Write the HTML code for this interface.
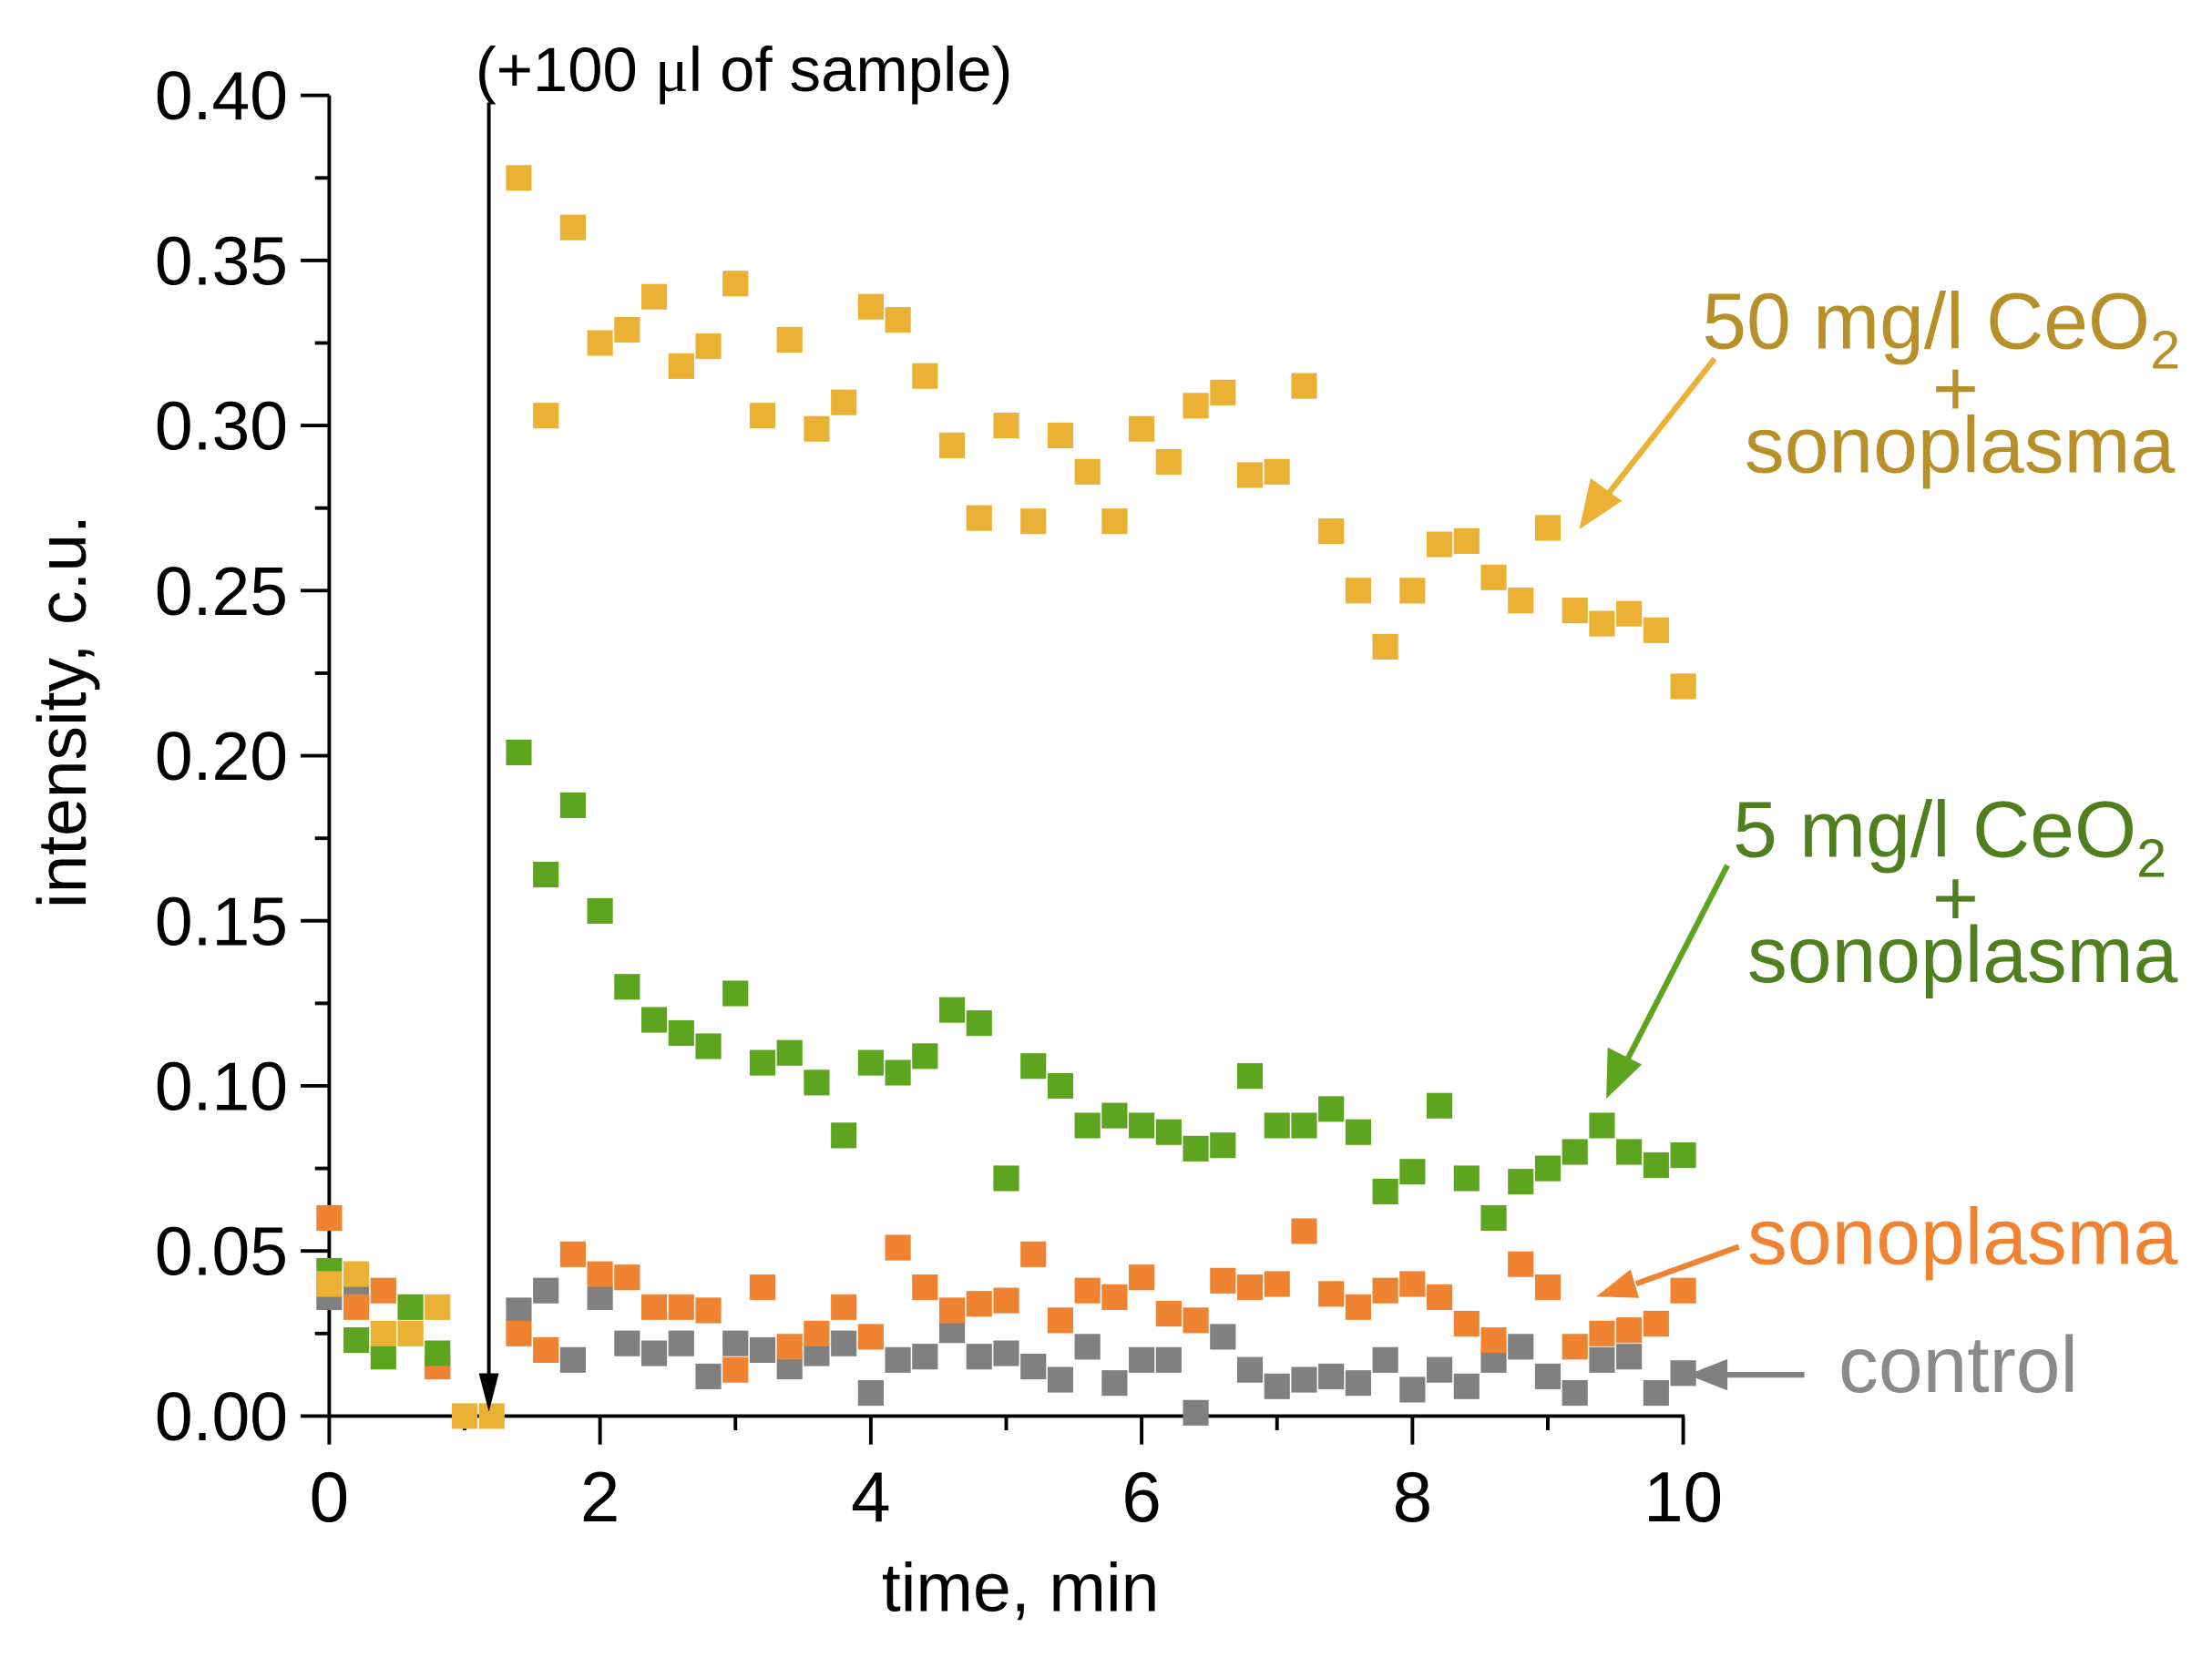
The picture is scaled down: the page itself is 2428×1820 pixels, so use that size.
<!DOCTYPE html>
<html><head><meta charset="utf-8"><style>html,body{margin:0;padding:0;background:#fff}svg{display:block}</style></head>
<body>
<svg id="s" width="2428" height="1820" viewBox="0 0 1552 1165" preserveAspectRatio="none" xmlns="http://www.w3.org/2000/svg" font-family="Liberation Sans, Arial, sans-serif">
<rect width="1552" height="1165" fill="#fff"/>
<g id="ax" stroke="#000" stroke-width="2.5" fill="none">
<line x1="231" y1="67" x2="231" y2="996"/>
<line x1="230" y1="995" x2="1182" y2="995"/>
</g>
<g id="tk" stroke="#000" stroke-width="2.5"></g>
<g id="lbl" font-size="48" fill="#000"></g>
<g id="pts"></g>
<line x1="343" y1="72" x2="343" y2="975" stroke="#000" stroke-width="2.5"/>
<polygon points="336,965 350,965 343,992" fill="#000"/>
<text x="522" y="64" font-size="44" text-anchor="middle">(+100 <tspan font-family="Liberation Serif, serif">μ</tspan>l of sample)</text>
<text x="716" y="1132" font-size="48" text-anchor="middle">time, min</text>
<text transform="translate(60,500) rotate(-90)" font-size="48" text-anchor="middle">intensity, c.u.</text>
<g font-size="56" text-anchor="middle">
<text x="1362" y="245" fill="#B8902A">50 mg/l CeO<tspan font-size="38" dy="14">2</tspan></text>
<text x="1372" y="292" fill="#B8902A" dy="0">+</text>
<text x="1375" y="332" fill="#B8902A">sonoplasma</text>
<text x="1368" y="602" fill="#4F7F1E">5 mg/l CeO<tspan font-size="38" dy="14">2</tspan></text>
<text x="1372" y="650" fill="#4F7F1E">+</text>
<text x="1377" y="690" fill="#4F7F1E">sonoplasma</text>
<text x="1377" y="888" fill="#EF8331">sonoplasma</text>
<text x="1374" y="978" fill="#8a8a8a">control</text>
</g>
<g stroke-width="4">
<line x1="1203" y1="252" x2="1126" y2="350" stroke="#EBB135"/>
<polygon points="1108,372 1116,336 1138,352" fill="#EBB135"/>
<line x1="1212" y1="608" x2="1140" y2="748" stroke="#5DA51E"/>
<polygon points="1127,772 1128,736 1152,748" fill="#5DA51E"/>
<line x1="1220" y1="876" x2="1148" y2="902" stroke="#EF8331"/>
<polygon points="1120,911 1144,892 1150,912" fill="#EF8331"/>
<line x1="1266" y1="966" x2="1210" y2="966" stroke="#808080"/>
<polygon points="1184,966 1212,955 1212,977" fill="#808080"/>
</g>
</svg>
<script>
var NS="http://www.w3.org/2000/svg";
function el(p,t,a,txt){var e=document.createElementNS(NS,t);for(var k in a)e.setAttribute(k,a[k]);if(txt!=null)e.textContent=txt;document.getElementById(p).appendChild(e);}
for(var i=0;i<=16;i++){var y=995-i*58;var maj=i%2==0;el("tk","line",{x1:231-(maj?20:10),y1:y,x2:231,y2:y});
 if(maj)el("lbl","text",{x:202,y:y+17,"text-anchor":"end"},(i*0.025).toFixed(2));}
for(var i=0;i<=10;i++){var x=231+i*95;var maj=i%2==0;el("tk","line",{x1:x,y1:995,x2:x,y2:995+(maj?20:10)});
 if(maj)el("lbl","text",{x:x,y:1069,"text-anchor":"middle","font-size":50},String(i));}
function S(c,d){for(var k in d){var t=+k,v=d[k];el("pts","rect",{x:231+t*95-9,y:995-v*2320-9,width:18,height:18,fill:c});}}
S("#808080",{0:.036,0.2:.036,0.8:.015,1.4:.032,1.6:.038,1.8:.017,2:.036,2.2:.022,2.4:.019,2.6:.022,2.8:.012,3:.022,3.2:.02,3.4:.015,3.6:.019,3.8:.022,4:.007,4.2:.017,4.4:.018,4.6:.026,4.8:.018,5:.019,5.2:.015,5.4:.011,5.6:.021,5.8:.01,6:.017,6.2:.017,6.4:.001,6.6:.024,6.8:.014,7:.009,7.2:.011,7.4:.012,7.6:.01,7.8:.017,8:.008,8.2:.014,8.4:.009,8.6:.017,8.8:.021,9:.012,9.2:.007,9.4:.017,9.6:.018,9.8:.007,10:.013});
S("#EF8331",{0:.06,0.2:.033,0.4:.038,0.6:.025,0.8:.015,1.4:.025,1.6:.02,1.8:.049,2:.043,2.2:.042,2.4:.033,2.6:.033,2.8:.032,3:.014,3.2:.039,3.4:.021,3.6:.025,3.8:.033,4:.024,4.2:.051,4.4:.039,4.6:.032,4.8:.034,5:.035,5.2:.049,5.4:.029,5.6:.038,5.8:.036,6:.042,6.2:.031,6.4:.029,6.6:.041,6.8:.039,7:.04,7.2:.056,7.4:.037,7.6:.033,7.8:.038,8:.04,8.2:.036,8.4:.028,8.6:.023,8.8:.046,9:.039,9.2:.021,9.4:.025,9.6:.026,9.8:.028,10:.038});
S("#5DA51E",{0:.044,0.2:.023,0.4:.018,0.6:.033,0.8:.019,1.4:.201,1.6:.164,1.8:.185,2:.153,2.2:.13,2.4:.12,2.6:.116,2.8:.112,3:.128,3.2:.107,3.4:.11,3.6:.101,3.8:.085,4:.107,4.2:.104,4.4:.109,4.6:.123,4.8:.119,5:.072,5.2:.106,5.4:.1,5.6:.088,5.8:.091,6:.088,6.2:.086,6.4:.081,6.6:.082,6.8:.103,7:.088,7.2:.088,7.4:.093,7.6:.086,7.8:.068,8:.074,8.2:.094,8.4:.072,8.6:.06,8.8:.071,9:.075,9.2:.08,9.4:.088,9.6:.08,9.8:.076,10:.079});
S("#EBB135",{0:.04,0.2:.043,0.4:.025,0.6:.025,0.8:.033,1:.0,1.2:.0,1.4:.375,1.6:.303,1.8:.36,2:.325,2.2:.329,2.4:.339,2.6:.318,2.8:.324,3:.343,3.2:.303,3.4:.326,3.6:.299,3.8:.307,4:.336,4.2:.332,4.4:.315,4.6:.294,4.8:.272,5:.3,5.2:.271,5.4:.297,5.6:.286,5.8:.271,6:.299,6.2:.289,6.4:.306,6.6:.31,6.8:.285,7:.286,7.2:.312,7.4:.268,7.6:.25,7.8:.233,8:.25,8.2:.264,8.4:.265,8.6:.254,8.8:.247,9:.269,9.2:.244,9.4:.24,9.6:.243,9.8:.238,10:.221});
</script>
</body></html>
